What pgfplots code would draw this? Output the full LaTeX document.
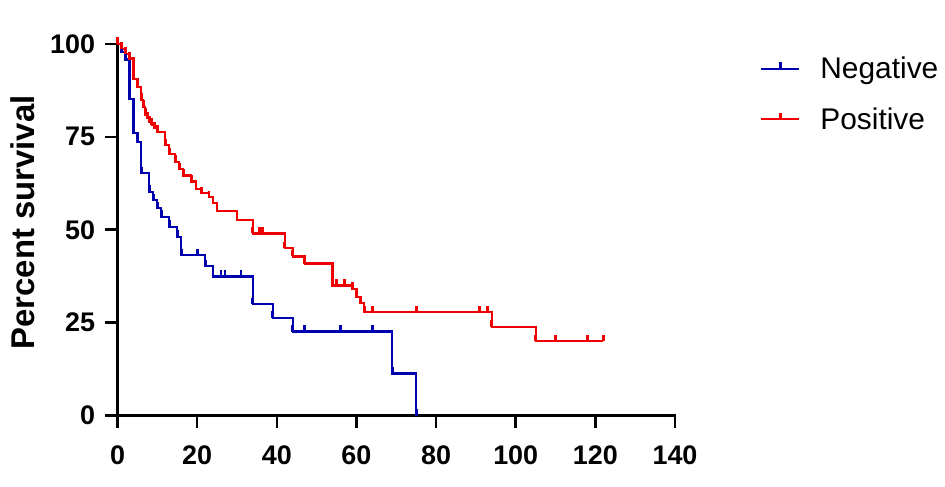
\documentclass[border=0pt]{standalone}
\usepackage{pgfplots}
\pgfplotsset{compat=1.18}
\usepackage{pgfplotstable}
\usepackage{fontspec}
\setmainfont{Liberation Sans}

\definecolor{negblue}{RGB}{0,0,175}
\definecolor{posred}{RGB}{240,0,0}

% censor / event tick: short vertical bar pointing up
\pgfdeclareplotmark{cens}{%
  \pgfpathmoveto{\pgfqpoint{0pt}{0pt}}%
  \pgfpathlineto{\pgfqpoint{0pt}{\pgfplotmarksize}}%
  \pgfusepathqstroke}

% Kaplan-Meier steps (time, percent); repeated levels are censored cases
\pgfplotstableread{
t   s
0   100
1   97.9
2   95.8
3   85.3
4   76.0
5   73.7
6   65.2
8   60.2
9   58.0
10  55.8
11  53.5
13  50.8
15  48.1
16  43.2
20  43.2
22  40.2
24  37.4
26  37.4
27  37.4
31  37.4
34  30.0
39  26.3
44  22.6
47  22.6
56  22.6
64  22.6
69  11.3
75  0
}\negative

\pgfplotstableread{
t    s
0    100
1    98.7
2    97.4
3    96.1
4    90.5
5    88.5
6    85.0
6.5  83.1
7    80.9
7.5  80.0
8    78.9
8.6  78.2
9.2  77.3
10   76.4
12   72.8
13   70.3
14.5 68.3
15.5 66.3
16.5 64.6
18.5 63.0
19.7 61.0
21   59.8
23   58.8
24   57.2
25   55.0
30   52.7
34   49.0
35.7 49.0
36.5 49.0
42   45.0
44   42.8
47   40.9
54   35.0
55   35.0
57   35.0
59   34.1
60   32.0
61   30.2
62   27.8
64   27.8
75   27.8
91   27.8
93   27.8
94   23.9
105  20.0
110  20.0
118  20.0
122  20.0
}\positive

\begin{document}
\begin{tikzpicture}
\begin{axis}[
    scale only axis,
    width=557.5bp, height=371.5bp,
    xmin=0, xmax=140, ymin=0, ymax=100,
    xtick={0,20,...,140},
    ytick={0,25,50,75,100},
    axis x line*=bottom,
    axis y line*=left,
    axis line style={line width=2.5bp, line cap=rect},
    xtick align=outside,
    ytick align=outside,
    major tick length=12bp,
    xtick style={draw=black, line width=2.5bp},
    ytick style={draw=black, line width=2.5bp},
    clip=false,
    /pgf/number format/assume math mode=true,
    tick label style={font=\fontsize{27}{27}\selectfont\bfseries},
    xticklabel style={yshift=-15bp},
    yticklabel style={xshift=-7bp},
    ylabel={Percent survival},
    ylabel style={at={(axis description cs:-0.17,0.52)}, anchor=center,
                  font=\fontsize{33}{33}\selectfont\bfseries},
    legend style={at={(axis description cs:1.1525,0.97)}, anchor=north west,
                  draw=none, fill=none, inner sep=0pt, row sep=23bp,
                  column sep=18bp,
                  font=\fontsize{30}{30}\selectfont,
                  cells={anchor=west}},
    legend image code/.code={%
        \draw[#1] (0bp,0bp) -- (38bp,0bp);
        \draw[#1] plot[mark=cens] coordinates {(19bp,0bp)};},
]
\coordinate (O) at (axis cs:0,0);
\addplot[const plot, negblue, line width=2.2bp, mark=cens, mark size=6.5bp,
         mark options={line width=2.8bp}] table[x=t, y=s] {\negative};
\addlegendentry{Negative}
\addplot[const plot, posred, line width=2.2bp, mark=cens, mark size=6.5bp,
         mark options={line width=2.8bp}] table[x=t, y=s] {\positive};
\addlegendentry{Positive}
\end{axis}
\path (O) ++(-117.5bp,-71.5bp) rectangle ++(945bp,487bp);
\end{tikzpicture}
\end{document}
